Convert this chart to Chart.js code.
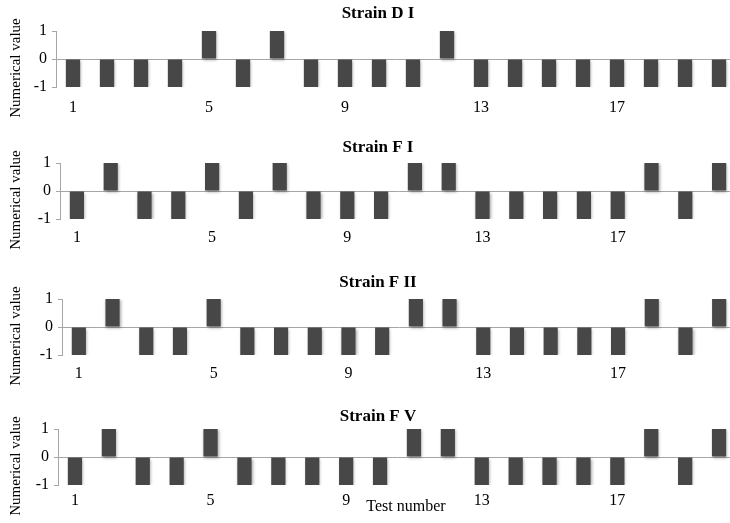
<!DOCTYPE html>
<html>
<head>
<meta charset="utf-8">
<script src="https://cdn.jsdelivr.net/npm/chart.js@4.4.0/dist/chart.umd.min.js"></script>
<style>
  html, body { margin: 0; padding: 0; background: #fff; width: 730px; height: 523px; overflow: hidden; }
  #wrap { position: relative; width: 730px; height: 523px; overflow: hidden; }
  canvas { position: absolute; left: 0; top: 0; }
</style>
</head>
<body>
<div id="wrap">
  <canvas id="c0" width="736" height="523"></canvas>
  <canvas id="c1" width="736" height="523"></canvas>
  <canvas id="c2" width="736" height="523"></canvas>
  <canvas id="c3" width="736" height="523"></canvas>
</div>
<script>
// ---- data ----
const testNumbers = ['1','2','3','4','5','6','7','8','9','10','11','12','13','14','15','16','17','18','19','20'];
const shownTestLabels = ['1','5','9','13','17'];
const strainTitles = ['Strain D I', 'Strain F I', 'Strain F II', 'Strain F V'];
const strainDI  = [-1,-1,-1,-1, 1,-1, 1,-1,-1,-1,-1, 1,-1,-1,-1,-1,-1,-1,-1,-1];
const strainFI  = [-1, 1,-1,-1, 1,-1, 1,-1,-1,-1, 1, 1,-1,-1,-1,-1,-1, 1,-1, 1];
const strainFII = [-1, 1,-1,-1, 1,-1,-1,-1,-1,-1, 1, 1,-1,-1,-1,-1,-1, 1,-1, 1];
const strainFV  = [-1, 1,-1,-1, 1,-1,-1,-1,-1,-1, 1, 1,-1,-1,-1,-1,-1, 1,-1, 1];
const yTickValues = [-1, 0, 1];
const yAxisTitle = 'Numerical value';
const xAxisTitle = 'Test number';

// ---- layout (positions only) ----
const seriesList = [strainDI, strainFI, strainFII, strainFV];
const layouts = [
  { left: 56, top: 31,  bottom: 87,  titleY: 14,  xPad: 3 },
  { left: 60, top: 163, bottom: 219, titleY: 148, xPad: 1 },
  { left: 62, top: 299, bottom: 355, titleY: 283, xPad: 1 },
  { left: 58, top: 429, bottom: 485, titleY: 417, xPad: -2 }
];
const FONT = "'Liberation Serif', 'Times New Roman', serif";
const AXIS_GRAY = '#a6a6a6';
const X_AXIS_H = 30;

Chart.defaults.font.family = FONT;
Chart.defaults.color = '#000';

function makeChart(i) {
  const L = layouts[i];
  const textPlugin = {
    id: 'texts' + i,
    beforeDatasetsDraw(chart) {
      const c = chart.ctx;
      c.save();
      c.shadowColor = 'rgba(0,0,0,0.35)';
      c.shadowBlur = 3;
      c.shadowOffsetX = 1;
      c.shadowOffsetY = 1;
    },
    afterDatasetsDraw(chart) {
      chart.ctx.restore();
    },
    afterDraw(chart) {
      const c = chart.ctx;
      const a = chart.chartArea;
      c.save();
      c.fillStyle = '#000';
      c.textAlign = 'center';
      c.textBaseline = 'middle';
      c.font = "bold 17px " + FONT;
      c.fillText(strainTitles[i], 378, L.titleY);
      c.font = "15px " + FONT;
      c.translate(16, (a.top + a.bottom) / 2 + 9);
      c.rotate(-Math.PI / 2);
      c.fillText(yAxisTitle, 0, 0);
      c.restore();
      if (i === 3) {
        c.save();
        c.fillStyle = '#000';
        c.textAlign = 'center';
        c.textBaseline = 'middle';
        c.font = "16px " + FONT;
        c.fillText(xAxisTitle, 406, 507);
        c.restore();
      }
    }
  };
  return new Chart(document.getElementById('c' + i), {
    type: 'bar',
    data: {
      labels: testNumbers,
      datasets: [{
        data: seriesList[i],
        backgroundColor: '#474747',
        borderWidth: 0,
        barPercentage: 0.42,
        categoryPercentage: 1.0
      }]
    },
    options: {
      responsive: false,
      animation: false,
      devicePixelRatio: 1,
      layout: { padding: { left: 0, right: 0, top: L.top, bottom: 523 - L.bottom - X_AXIS_H } },
      plugins: { legend: { display: false }, tooltip: { enabled: false }, title: { display: false } },
      scales: {
        x: {
          grid: { display: false },
          border: { display: false },
          ticks: {
            autoSkip: false,
            maxRotation: 0,
            padding: L.xPad,
            font: { size: 16, family: FONT },
            color: '#000',
            callback: function (v, idx) {
              const lab = testNumbers[idx];
              return shownTestLabels.includes(lab) ? lab : '';
            }
          },
          afterFit(scale) { scale.height = X_AXIS_H; }
        },
        y: {
          min: -1,
          max: 1,
          afterBuildTicks(scale) { scale.ticks = yTickValues.map(v => ({ value: v })); },
          ticks: {
            padding: 5,
            font: { size: 16, family: FONT },
            color: '#000',
            callback: v => String(v)
          },
          grid: {
            drawOnChartArea: true,
            color: ctx => (ctx.tick && ctx.tick.value === 0) ? AXIS_GRAY : 'rgba(0,0,0,0)',
            tickColor: AXIS_GRAY,
            tickLength: 4,
            lineWidth: 1
          },
          border: { display: true, color: AXIS_GRAY, width: 1 },
          afterFit(scale) { scale.width = L.left; }
        }
      }
    },
    plugins: [textPlugin]
  });
}
for (let i = 0; i < 4; i++) makeChart(i);
</script>
</body>
</html>
